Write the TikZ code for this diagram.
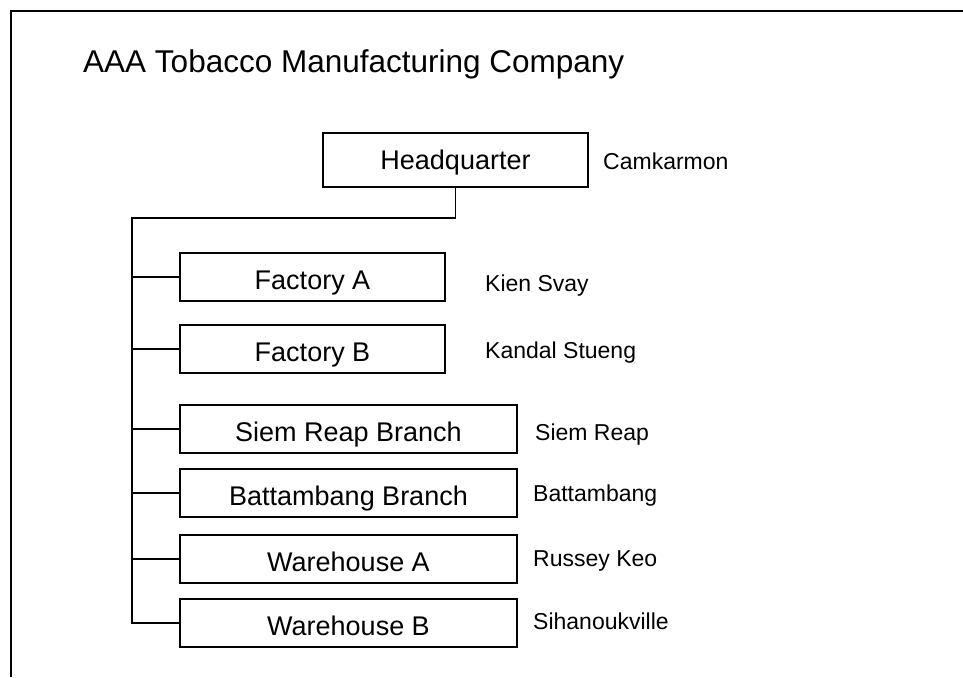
\documentclass[tikz,border=0pt]{standalone}
\usepackage{fontspec}
\setmainfont{Liberation Sans}
\begin{document}
\begin{tikzpicture}[x=1pt,y=-1pt,
  orgbox/.style={draw,line width=1.6pt,inner sep=0pt,text height=25.4pt,text depth=0pt,font=\fontsize{27}{30}\selectfont},
  place/.style={anchor=west,inner sep=0pt,text height=16.5pt,text depth=0pt,font=\fontsize{23}{26}\selectfont},
  link/.style={line width=1.6pt}]
\useasboundingbox (0,0) rectangle (963,677);
\fill[white] (0,0) rectangle (963,677);
% frame
\draw[line width=1.6pt] (11,677) -- (11,11) -- (963,11);
% title
\node[anchor=west,inner sep=0pt,text height=22.6pt,text depth=0pt,font=\fontsize{31.5}{34}\selectfont] (title) at (83,61.5) {AAA Tobacco Manufacturing Company};
% boxes
\node[orgbox,text height=19.3pt,minimum width=265pt,minimum height=54pt] (hq) at (455.5,160) {Headquarter};
\node[orgbox,minimum width=265pt,minimum height=48pt] (fa) at (312.5,277) {Factory A};
\node[orgbox,minimum width=265pt,minimum height=48pt] (fb) at (312.5,349) {Factory B};
\node[orgbox,minimum width=337pt,minimum height=48pt] (sr) at (348.5,429) {Siem Reap Branch};
\node[orgbox,minimum width=337pt,minimum height=48pt] (bb) at (348.5,493) {Battambang Branch};
\node[orgbox,minimum width=337pt,minimum height=48pt] (wa) at (348.5,559) {Warehouse A};
\node[orgbox,minimum width=337pt,minimum height=48pt] (wb) at (348.5,623) {Warehouse B};
% places
\node[place] (lhq) at (603,161) {Camkarmon};
\node[place] (lfa) at (485,283) {Kien Svay};
\node[place] (lfb) at (485,350) {Kandal Stueng};
\node[place] (lsr) at (535,432) {Siem Reap};
\node[place] (lbb) at (533,493.5) {Battambang};
\node[place] (lwa) at (533,558) {Russey Keo};
\node[place] (lwb) at (533,621) {Sihanoukville};
% connectors
\coordinate (top) at (132,218);
\coordinate (bot) at (132,623);
\draw[link] (hq.south) |- (top) -- (bot) -- (wb.west);
\foreach \n in {fa,fb,sr,bb,wa}{
  \draw[link] (\n.west) -- (\n.west -| top);
}
\end{tikzpicture}
\end{document}
